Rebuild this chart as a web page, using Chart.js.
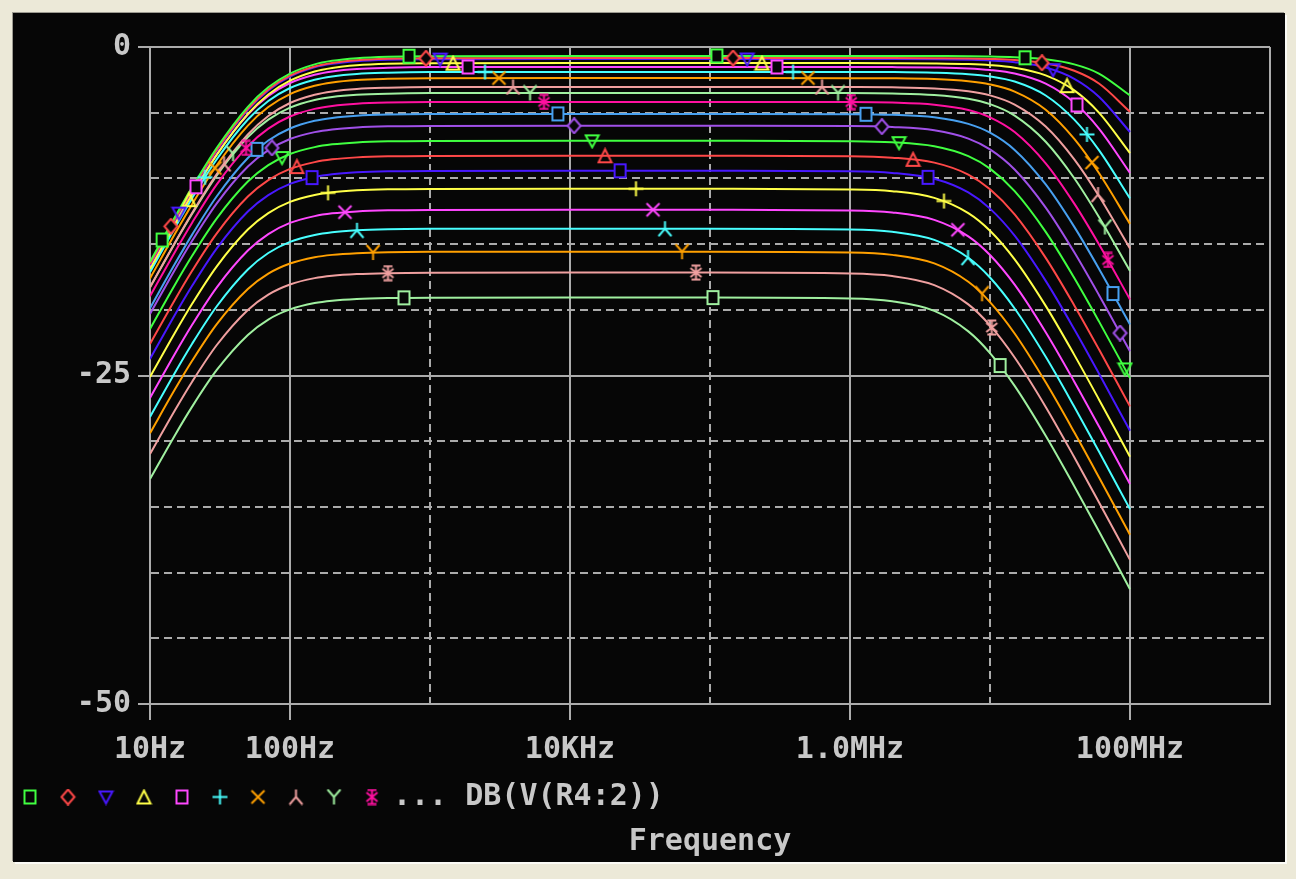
<!DOCTYPE html>
<html>
<head>
<meta charset="utf-8">
<script src="https://cdn.jsdelivr.net/npm/chart.js@4.4.1/dist/chart.umd.min.js"></script>
<style>
html,body{margin:0;padding:0;background:#ece9d8;width:1296px;height:879px;overflow:hidden}
#panel{position:absolute;left:13px;top:13px;width:1272px;height:849px;background:#060606;
  box-shadow:-1px -1px 0 #9c9a90, 2px 2px 0 #fbfbf6;}
canvas{display:block}
</style>
</head>
<body>
<div id="panel"><canvas id="c" width="1272" height="849"></canvas></div>
<script>
// ---------------- DATA ----------------
const freqs = [10,15,20,30,50,70,100,150,200,300,500,1000,1e4,1e5,1e6,2e6,4e6,7e6,1e7,1.5e7,2.5e7,4e7,6e7,1e8];

const c1  = [-16.36,-12.98,-10.68,-7.67,-4.55,-3.07,-2.02,-1.32,-1.05,-0.85,-0.74,-0.70,-0.68,-0.68,-0.68,-0.68,-0.69,-0.70,-0.72,-0.78,-0.94,-1.32,-2.02,-3.69];
const c2  = [-16.52,-13.14,-10.84,-7.83,-4.71,-3.23,-2.18,-1.48,-1.21,-1.01,-0.90,-0.86,-0.84,-0.84,-0.84,-0.84,-0.85,-0.87,-0.91,-0.99,-1.24,-1.81,-2.78,-4.93];
const c3  = [-16.59,-13.21,-10.91,-7.90,-4.78,-3.30,-2.25,-1.55,-1.28,-1.08,-0.97,-0.93,-0.91,-0.91,-0.91,-0.91,-0.93,-0.97,-1.02,-1.16,-1.56,-2.42,-3.78,-6.47];
const c4  = [-16.90,-13.52,-11.22,-8.21,-5.09,-3.61,-2.56,-1.86,-1.59,-1.39,-1.28,-1.24,-1.22,-1.22,-1.22,-1.23,-1.25,-1.30,-1.38,-1.58,-2.16,-3.30,-4.99,-8.07];
const c5  = [-16.77,-13.41,-11.12,-8.16,-5.14,-3.73,-2.74,-2.11,-1.86,-1.67,-1.58,-1.53,-1.52,-1.52,-1.52,-1.53,-1.56,-1.63,-1.75,-2.02,-2.79,-4.23,-6.21,-9.59];
const c6  = [-17.15,-13.79,-11.50,-8.54,-5.52,-4.11,-3.12,-2.49,-2.24,-2.05,-1.96,-1.91,-1.90,-1.90,-1.90,-1.91,-1.96,-2.07,-2.24,-2.63,-3.69,-5.53,-7.85,-11.52];
const c7  = [-17.61,-14.25,-11.96,-9.00,-5.98,-4.57,-3.58,-2.95,-2.70,-2.51,-2.42,-2.37,-2.36,-2.36,-2.37,-2.38,-2.44,-2.61,-2.85,-3.39,-4.77,-6.99,-9.59,-13.46];
const c8  = [-18.29,-14.93,-12.64,-9.68,-6.66,-5.25,-4.26,-3.63,-3.38,-3.19,-3.10,-3.05,-3.04,-3.04,-3.05,-3.07,-3.15,-3.37,-3.68,-4.38,-6.05,-8.55,-11.34,-15.34];
const c9  = [-18.29,-14.95,-12.69,-9.77,-6.86,-5.53,-4.61,-4.03,-3.81,-3.64,-3.55,-3.51,-3.50,-3.50,-3.51,-3.54,-3.65,-3.94,-4.35,-5.22,-7.21,-9.99,-12.94,-17.05];
const c10 = [-18.97,-15.63,-13.37,-10.45,-7.54,-6.21,-5.29,-4.71,-4.49,-4.32,-4.23,-4.19,-4.18,-4.18,-4.19,-4.23,-4.39,-4.79,-5.35,-6.47,-8.85,-11.92,-15.01,-19.21];
const c11 = [-19.88,-16.54,-14.28,-11.36,-8.45,-7.12,-6.20,-5.62,-5.40,-5.23,-5.14,-5.10,-5.09,-5.09,-5.11,-5.16,-5.35,-5.85,-6.52,-7.83,-10.46,-13.69,-16.87,-21.12];
const c12 = [-20.32,-16.99,-14.75,-11.90,-9.10,-7.85,-7.00,-6.48,-6.27,-6.12,-6.04,-6.01,-6.00,-6.00,-6.02,-6.09,-6.34,-6.97,-7.79,-9.32,-12.22,-15.62,-18.87,-23.16];
const c13 = [-21.46,-18.13,-15.89,-13.04,-10.24,-8.99,-8.14,-7.62,-7.41,-7.26,-7.18,-7.15,-7.14,-7.14,-7.17,-7.25,-7.56,-8.31,-9.26,-10.97,-14.07,-17.58,-20.88,-25.20];
const c14 = [-22.60,-19.27,-17.03,-14.18,-11.38,-10.13,-9.28,-8.76,-8.55,-8.40,-8.32,-8.29,-8.28,-8.28,-8.31,-8.42,-8.80,-9.71,-10.83,-12.74,-16.05,-19.67,-23.01,-27.35];
const c15 = [-23.74,-20.41,-18.17,-15.32,-12.52,-11.27,-10.42,-9.90,-9.69,-9.54,-9.46,-9.43,-9.42,-9.42,-9.46,-9.58,-10.03,-11.07,-12.30,-14.36,-17.80,-21.48,-24.85,-29.21];
const c16 = [-25.11,-21.78,-19.54,-16.69,-13.89,-12.64,-11.79,-11.27,-11.06,-10.91,-10.83,-10.80,-10.79,-10.79,-10.84,-10.97,-11.48,-12.64,-13.98,-16.16,-19.70,-23.43,-26.82,-31.18];
const c17 = [-26.71,-23.38,-21.14,-18.29,-15.49,-14.24,-13.39,-12.87,-12.66,-12.51,-12.43,-12.40,-12.39,-12.39,-12.44,-12.59,-13.16,-14.41,-15.83,-18.09,-21.71,-25.47,-28.87,-33.25];
const c18 = [-28.15,-24.82,-22.58,-19.73,-16.93,-15.68,-14.83,-14.31,-14.10,-13.95,-13.87,-13.84,-13.83,-13.83,-13.89,-14.06,-14.68,-16.04,-17.54,-19.90,-23.58,-27.38,-30.79,-35.17];
const c19 = [-29.39,-26.09,-23.88,-21.09,-18.42,-17.25,-16.48,-16.00,-15.82,-15.69,-15.62,-15.59,-15.58,-15.58,-15.64,-15.82,-16.47,-17.87,-19.41,-21.80,-25.52,-29.32,-32.74,-37.12];
const c20 = [-30.98,-27.68,-25.47,-22.68,-20.01,-18.84,-18.07,-17.59,-17.41,-17.28,-17.21,-17.18,-17.17,-17.17,-17.24,-17.43,-18.12,-19.59,-21.19,-23.63,-27.39,-31.22,-34.64,-39.03];
const c21 = [-32.88,-29.58,-27.37,-24.58,-21.91,-20.74,-19.97,-19.49,-19.31,-19.18,-19.11,-19.08,-19.07,-19.07,-19.14,-19.35,-20.08,-21.64,-23.29,-25.79,-29.59,-33.43,-36.86,-41.26];
const curves = [c1,c2,c3,c4,c5,c6,c7,c8,c9,c10,c11,c12,c13,c14,c15,c16,c17,c18,c19,c20,c21];

// marker positions along each trace (frequency, dB)
const markerFreqs = [
  [12.2, 708, 1.12e5, 1.78e7],
  [14.1, 936, 1.46e5, 2.35e7],
  [16.1, 1180, 1.84e5, 2.82e7],
  [19.0, 1460, 2.35e5, 3.55e7],
  [21.3, 1870, 3.01e5, 4.18e7],
  [24.7, 2470, 3.92e5, 4.93e7],
  [29.1, 3110, 5.01e5, 5.35e7],
  [33.8, 3920, 6.31e5, 5.91e7],
  [39.2, 5180, 8.21e5, 6.62e7],
  [48.5, 6520, 1.02e6, 6.96e7],
  [58.1, 8200, 1.30e6, 7.56e7],
  [74.3, 1.07e4, 1.69e6, 8.49e7],
  [87.7, 1.44e4, 2.24e6, 9.21e7],
  [112, 1.78e4, 2.82e6],
  [143.6, 2.28e4, 3.61e6],
  [187, 2.96e4, 4.69e6],
  [247, 3.92e4, 5.90e6],
  [301, 4.77e4, 6.97e6],
  [392, 6.31e4, 8.77e6],
  [501, 7.94e4, 1.03e7],
  [652, 1.05e5, 1.18e7]
];
const markerDb = [
  [-14.69, -0.70, -0.68, -0.82],
  [-13.65, -0.86, -0.84, -1.20],
  [-12.64, -0.92, -0.91, -1.73],
  [-11.62, -1.23, -1.22, -2.94],
  [-10.64, -1.52, -1.52, -4.41],
  [-9.91, -1.90, -1.90, -6.65],
  [-9.21, -2.36, -2.36, -8.79],
  [-8.89, -3.04, -3.04, -11.23],
  [-8.12, -3.50, -3.50, -13.70],
  [-7.68, -4.18, -4.19, -16.21],
  [-7.79, -5.09, -5.12, -18.76],
  [-7.68, -6.00, -6.06, -21.77],
  [-8.41, -7.14, -7.28, -24.50],
  [-9.10, -8.28, -8.55],
  [-9.94, -9.42, -9.92],
  [-11.10, -10.79, -11.72],
  [-12.57, -12.39, -13.91],
  [-13.95, -13.83, -16.02],
  [-15.64, -15.58, -18.78],
  [-17.21, -17.17, -21.35],
  [-19.09, -19.07, -24.24]
];

const xTickValues = [10, 100, 1e3, 1e4, 1e5, 1e6, 1e7, 1e8, 1e9];
const xTickLabels = ['10Hz', '100Hz', '', '10KHz', '', '1.0MHz', '', '100MHz', ''];
const xSolid = [10, 100, 1e4, 1e6, 1e8, 1e9];
const yTickValues = [-50, -45, -40, -35, -30, -25, -20, -15, -10, -5, 0];
const yTickLabels = ['-50', '', '', '', '', '-25', '', '', '', '', '0'];
const ySolid = [-50, -25, 0];
const legendText = '... DB(V(R4:2))';
const xTitle = 'Frequency';

// ---------------- STYLE ----------------
const traceColors = ['#40ff40','#ff4848','#4818ff','#ffff48','#ff48ff','#48ffff','#ffa000','#f0a0a0','#a0f0a0','#ff10a0','#48a0f0','#a050e8'];
const markerShapes = ['square','diamond','triDown','triUp','square','plus','x','lambda','y','star'];
const GRID = '#ababab';
const TEXT = '#c8c8c8';
const FONT = "'DejaVu Sans Mono', 'Liberation Mono', monospace";

function makeMarker(shape, color) {
  const c = document.createElement('canvas');
  c.width = 17; c.height = 17;
  const g = c.getContext('2d');
  g.strokeStyle = color; g.lineWidth = 2; g.fillStyle = '#060606';
  g.beginPath();
  switch (shape) {
    case 'square': g.rect(3, 2, 11, 13); g.fill(); break;
    case 'diamond': g.moveTo(8.5,1); g.lineTo(15,8.5); g.lineTo(8.5,16); g.lineTo(2,8.5); g.closePath(); g.fill(); break;
    case 'triDown': g.moveTo(2,3); g.lineTo(15,3); g.lineTo(8.5,15); g.closePath(); break;
    case 'triUp': g.moveTo(8.5,2); g.lineTo(15,15); g.lineTo(2,15); g.closePath(); break;
    case 'plus': g.moveTo(8.5,1); g.lineTo(8.5,16); g.moveTo(1,8.5); g.lineTo(16,8.5); break;
    case 'x': g.moveTo(2,2); g.lineTo(15,15); g.moveTo(15,2); g.lineTo(2,15); break;
    case 'lambda': g.moveTo(8.5,1); g.lineTo(8.5,8.5); g.lineTo(2,16); g.moveTo(8.5,8.5); g.lineTo(15,16); break;
    case 'y': g.moveTo(2,1); g.lineTo(8.5,8.5); g.lineTo(15,1); g.moveTo(8.5,8.5); g.lineTo(8.5,16); break;
    case 'star': g.moveTo(8.5,1); g.lineTo(8.5,16); g.moveTo(3,4); g.lineTo(14,13); g.moveTo(14,4); g.lineTo(3,13);
                 g.moveTo(4,1.5); g.lineTo(13,1.5); g.moveTo(4,15.5); g.lineTo(13,15.5); break;
  }
  g.stroke();
  return c;
}

const datasets = [];
const markerImgs = [];
curves.forEach((vals, i) => {
  const color = traceColors[i % traceColors.length];
  const img = makeMarker(markerShapes[i % markerShapes.length], color);
  markerImgs.push(img);
  datasets.push({
    label: 'trace' + (i + 1),
    data: freqs.map((f, k) => ({x: f, y: vals[k]})),
    borderColor: color,
    borderWidth: 2,
    pointRadius: 0,
    fill: false,
    cubicInterpolationMode: 'monotone',
    order: 1
  });
  datasets.push({
    label: 'markers' + (i + 1),
    data: markerFreqs[i].map((f, k) => ({x: f, y: markerDb[i][k]})),
    showLine: false,
    pointStyle: img,
    pointRadius: 8,
    borderColor: color,
    order: 0
  });
});

const legendItems = [];
for (let i = 0; i < 10; i++) {
  legendItems.push({
    text: i === 9 ? legendText : '',
    pointStyle: markerImgs[i],
    fillStyle: 'transparent',
    strokeStyle: 'transparent',
    lineWidth: 0,
    hidden: false,
    fontColor: TEXT
  });
}

new Chart(document.getElementById('c'), {
  type: 'line',
  data: {datasets},
  options: {
    responsive: false,
    animation: false,
    devicePixelRatio: 1,
    layout: {padding: {left: 0, right: 15, top: 34, bottom: 0}},
    scales: {
      x: {
        type: 'logarithmic',
        min: 10, max: 1e9,
        afterBuildTicks: (s) => { s.ticks = xTickValues.map(v => ({value: v})); },
        afterFit: (s) => { s.height = 67; },
        ticks: {
          autoSkip: false, maxRotation: 0, minRotation: 0, padding: 12,
          color: TEXT, font: {family: FONT, size: 30, weight: 'bold'},
          callback: (v) => { const k = xTickValues.indexOf(v); return k >= 0 ? xTickLabels[k] : ''; }
        },
        grid: {
          color: GRID, lineWidth: 2, tickLength: 16, tickWidth: 2,
          tickColor: (c) => (c.tick && xTickLabels[xTickValues.indexOf(c.tick.value)]) ? GRID : 'rgba(0,0,0,0)'
        },
        border: {
          display: true, color: GRID, width: 2,
          dash: (c) => (c.tick && xSolid.indexOf(c.tick.value) < 0) ? [8, 5] : []
        }
      },
      y: {
        min: -50, max: 0,
        afterBuildTicks: (s) => { s.ticks = yTickValues.map(v => ({value: v})); },
        afterFit: (s) => { s.width = 137; },
        ticks: {
          autoSkip: false, padding: 7,
          color: TEXT, font: {family: FONT, size: 30, weight: 'bold'},
          callback: (v) => { const k = yTickValues.indexOf(v); return k >= 0 ? yTickLabels[k] : ''; }
        },
        grid: {
          color: GRID, lineWidth: 2, tickLength: 12, tickWidth: 2,
          tickColor: (c) => (c.tick && ySolid.indexOf(c.tick.value) >= 0) ? GRID : 'rgba(0,0,0,0)'
        },
        border: {
          display: true, color: GRID, width: 2,
          dash: (c) => (c.tick && ySolid.indexOf(c.tick.value) < 0) ? [8, 5] : []
        }
      }
    },
    plugins: {
      tooltip: {enabled: false},
      legend: {
        display: true, position: 'bottom', align: 'start', fullSize: true,
        onClick: null,
        labels: {
          color: TEXT, font: {family: FONT, size: 30, weight: 'bold'},
          usePointStyle: true, boxWidth: 12, boxHeight: 12, padding: 11,
          generateLabels: () => legendItems
        }
      },
      title: {
        display: true, text: xTitle, position: 'bottom', fullSize: false,
        color: TEXT, font: {family: FONT, size: 30, weight: 'bold'},
        padding: {top: 2, bottom: 2}
      }
    }
  }
});
</script>
</body>
</html>
